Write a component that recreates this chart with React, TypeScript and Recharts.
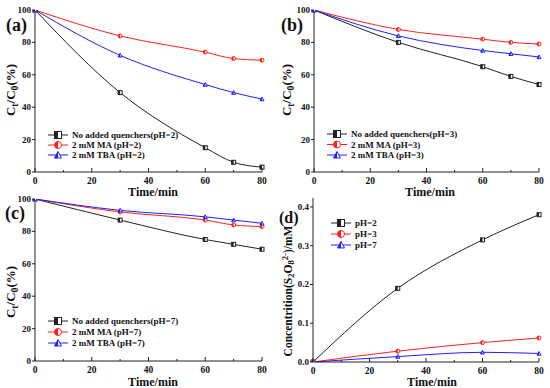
import React from "react";
import { LineChart, Line, XAxis, YAxis } from "recharts";

// sampling times (min)
const timeABC = [0, 30, 60, 70, 80];
const timeD = [0, 30, 60, 80];

// (a) pH=2, Ct/C0 (%)
const noQuenchA = [100, 49, 15, 6, 3];
const maA = [100, 84, 74, 70, 69];
const tbaA = [100, 72, 54, 49, 45];

// (b) pH=3
const noQuenchB = [100, 80, 65, 59, 54];
const maB = [100, 88, 82, 80, 79];
const tbaB = [100, 84, 75, 73, 71];

// (c) pH=7
const noQuenchC = [100, 87, 75, 72, 69];
const maC = [100, 92, 87, 84, 83];
const tbaC = [100, 93, 89, 87, 85];

// (d) S2O8 2- concentration (mM)
const ph2D = [0, 0.19, 0.315, 0.38];
const ph3D = [0, 0.028, 0.05, 0.062];
const ph7D = [0, 0.014, 0.025, 0.022];

const xTicks = [0, 10, 20, 30, 40, 50, 60, 70, 80];
const pctTicks = [0, 20, 40, 60, 80, 100];
const concTicks = [0, 0.1, 0.2, 0.3, 0.4];

const FONT = '"Liberation Serif", "Times New Roman", serif';
const BLACK = "#222222";
const RED = "#ff2020";
const BLUE = "#2020ff";

type Shape = "square" | "circle" | "triangle";

function Marker({ cx, cy, s, color, shape }: { cx: number; cy: number; s: number; color: string; shape: Shape }) {
  const r = s / 2;
  if (shape === "square") {
    return (
      <g>
        <rect x={cx - r} y={cy - r} width={s} height={s} fill="#fff" stroke={color} strokeWidth={1} />
        <rect x={cx - r} y={cy - r} width={r} height={s} fill={color} />
      </g>
    );
  }
  if (shape === "circle") {
    return (
      <g>
        <circle cx={cx} cy={cy} r={r} fill="#fff" stroke={color} strokeWidth={1} />
        <path d={`M${cx},${cy - r} A${r},${r} 0 0 0 ${cx},${cy + r} Z`} fill={color} />
      </g>
    );
  }
  const h = r * 0.85;
  return (
    <g>
      <polygon points={`${cx},${cy - r} ${cx + r},${cy + h} ${cx - r},${cy + h}`} fill="#fff" stroke={color} strokeWidth={1} />
      <polygon points={`${cx},${cy - r} ${cx},${cy + h} ${cx - r},${cy + h}`} fill={color} />
    </g>
  );
}

const makeDot = (color: string, shape: Shape) => (props: any) => {
  const { cx, cy, index } = props;
  if (cx == null || cy == null) return <g key={index} />;
  return (
    <g key={index}>
      <Marker cx={cx} cy={cy} s={4} color={color} shape={shape} />
    </g>
  );
};

const XTick = (props: any) => {
  const { x, y, payload } = props;
  const v = payload.value;
  const major = v % 20 === 0;
  return (
    <g>
      <line x1={x} x2={x} y1={y} y2={y - (major ? 4 : 2)} stroke={BLACK} strokeWidth={1} />
      {major && (
        <text x={x} y={y + 12} textAnchor="middle" fontFamily={FONT} fontWeight="bold" fontSize={9.5} fill="#111">
          {v}
        </text>
      )}
    </g>
  );
};

const makeYTick = (fmt: (v: number) => string) => (props: any) => {
  const { x, y, payload } = props;
  return (
    <g>
      <line x1={x} x2={x - 3} y1={y} y2={y} stroke={BLACK} strokeWidth={1} />
      <text x={x - 4} y={y + 3} textAnchor="end" fontFamily={FONT} fontWeight="bold" fontSize={9} fill="#111">
        {fmt(payload.value)}
      </text>
    </g>
  );
};

type SeriesDef = { key: string; name: string; values: number[]; color: string; shape: Shape };

type PanelProps = {
  left: number;
  top: number;
  plotLeft: number;
  plotRight: number;
  plotTop: number;
  plotBottom: number;
  times: number[];
  series: SeriesDef[];
  yDomain: [number, number];
  yTicks: number[];
  yFmt: (v: number) => string;
};

function Panel(p: PanelProps) {
  const data = p.times.map((t, i) => {
    const row: Record<string, number> = { t };
    p.series.forEach((s) => (row[s.key] = s.values[i]));
    return row;
  });
  return (
    <div style={{ position: "absolute", left: p.left, top: p.top, width: 275, height: 194 }}>
      <LineChart
        width={275}
        height={194}
        data={data}
        margin={{ top: p.plotTop, right: 275 - p.plotRight, left: 0, bottom: 0 }}
      >
        <XAxis
          dataKey="t"
          type="number"
          domain={[0, 80]}
          ticks={xTicks}
          interval={0}
          height={194 - p.plotBottom}
          tickSize={0}
          tickMargin={0}
          tick={<XTick />}
          axisLine={{ stroke: BLACK, strokeWidth: 1 }}
        />
        <XAxis
          xAxisId="top"
          orientation="top"
          type="number"
          domain={[0, 80]}
          height={0}
          tick={false}
          tickLine={false}
          axisLine={{ stroke: "#666", strokeWidth: 1 }}
        />
        <YAxis
          type="number"
          domain={p.yDomain}
          ticks={p.yTicks}
          interval={0}
          width={p.plotLeft}
          tickSize={0}
          tickMargin={0}
          tick={makeYTick(p.yFmt)}
          axisLine={{ stroke: BLACK, strokeWidth: 1 }}
          allowDataOverflow
        />
        <YAxis
          yAxisId="right"
          orientation="right"
          type="number"
          domain={p.yDomain}
          width={0}
          tick={false}
          tickLine={false}
          axisLine={{ stroke: "#666", strokeWidth: 1 }}
        />
        {p.series.map((s) => (
          <Line
            key={s.key}
            type="monotone"
            dataKey={s.key}
            stroke={s.color}
            strokeWidth={1}
            dot={makeDot(s.color, s.shape)}
            isAnimationActive={false}
          />
        ))}
      </LineChart>
    </div>
  );
}

function Legend({ left, top, items, rowH }: { left: number; top: number; items: SeriesDef[]; rowH: number }) {
  return (
    <svg style={{ position: "absolute", left, top, overflow: "visible" }} width={140} height={rowH * items.length}>
      {items.map((s, i) => {
        const y = i * rowH;
        return (
          <g key={s.key}>
            <line x1={0} x2={20} y1={y} y2={y} stroke={s.color} strokeWidth={1} />
            <Marker cx={10} cy={y} s={7} color={s.color} shape={s.shape} />
            <text x={24} y={y + 3} fontFamily={FONT} fontWeight="bold" fontSize={9} fill="#111">
              {s.name}
            </text>
          </g>
        );
      })}
    </svg>
  );
}

const textStyle: React.CSSProperties = {
  position: "absolute",
  fontFamily: FONT,
  fontWeight: "bold",
  color: "#111",
  whiteSpace: "nowrap",
  lineHeight: 1,
};

function Tag({ x, y, label, size = 18 }: { x: number; y: number; label: string; size?: number }) {
  return <div style={{ ...textStyle, left: x, top: y, fontSize: size }}>{label}</div>;
}

function TimeLabel({ cx, cy }: { cx: number; cy: number }) {
  return (
    <div style={{ ...textStyle, left: cx, top: cy, fontSize: 12, transform: "translate(-50%, -50%)" }}>Time/min</div>
  );
}

const subStyle: React.CSSProperties = { fontSize: "0.75em", verticalAlign: "-0.25em" };
const supStyle: React.CSSProperties = { fontSize: "0.75em", verticalAlign: "0.45em" };

function YLabel({ cx, cy, children, size }: { cx: number; cy: number; children: React.ReactNode; size: number }) {
  return (
    <div
      style={{
        ...textStyle,
        left: cx,
        top: cy,
        fontSize: size,
        transform: "translate(-50%, -50%) rotate(-90deg)",
      }}
    >
      {children}
    </div>
  );
}

const CtC0 = (
  <>
    C<span style={subStyle}>t</span>/C<span style={subStyle}>0</span>(%)
  </>
);

const pct = (v: number) => String(v);
const conc = (v: number) => v.toFixed(1);

export default function App() {
  const seriesA: SeriesDef[] = [
    { key: "n", name: "No added quenchers(pH=2)", values: noQuenchA, color: BLACK, shape: "square" },
    { key: "m", name: "2 mM MA (pH=2)", values: maA, color: RED, shape: "circle" },
    { key: "b", name: " 2 mM TBA (pH=2)", values: tbaA, color: BLUE, shape: "triangle" },
  ];
  const seriesB: SeriesDef[] = [
    { key: "n", name: "No added quenchers(pH=3)", values: noQuenchB, color: BLACK, shape: "square" },
    { key: "m", name: "2 mM MA (pH=3)", values: maB, color: RED, shape: "circle" },
    { key: "b", name: " 2 mM TBA (pH=3)", values: tbaB, color: BLUE, shape: "triangle" },
  ];
  const seriesC: SeriesDef[] = [
    { key: "n", name: "No added quenchers(pH=7)", values: noQuenchC, color: BLACK, shape: "square" },
    { key: "m", name: "2 mM MA (pH=7)", values: maC, color: RED, shape: "circle" },
    { key: "b", name: " 2 mM TBA (pH=7)", values: tbaC, color: BLUE, shape: "triangle" },
  ];
  const seriesD: SeriesDef[] = [
    { key: "p2", name: "pH=2", values: ph2D, color: BLACK, shape: "square" },
    { key: "p3", name: "pH=3", values: ph3D, color: RED, shape: "circle" },
    { key: "p7", name: "pH=7", values: ph7D, color: BLUE, shape: "triangle" },
  ];

  return (
    <div
      style={{
        position: "absolute",
        left: 0,
        top: 0,
        width: 550,
        height: 388,
        background: "#fff",
        overflow: "hidden",
      }}
    >
      <Panel left={0} top={0} plotLeft={35} plotRight={262} plotTop={10} plotBottom={172}
        times={timeABC} series={seriesA} yDomain={[0, 100]} yTicks={pctTicks} yFmt={pct} />
      <Panel left={275} top={0} plotLeft={39} plotRight={264} plotTop={10} plotBottom={172}
        times={timeABC} series={seriesB} yDomain={[0, 100]} yTicks={pctTicks} yFmt={pct} />
      <Panel left={0} top={194} plotLeft={35} plotRight={262} plotTop={5} plotBottom={167}
        times={timeABC} series={seriesC} yDomain={[0, 100]} yTicks={pctTicks} yFmt={pct} />
      <Panel left={275} top={194} plotLeft={38} plotRight={264} plotTop={4} plotBottom={168}
        times={timeD} series={seriesD} yDomain={[0, 0.423]} yTicks={concTicks} yFmt={conc} />

      <Legend left={48} top={135} rowH={10} items={seriesA} />
      <Legend left={327} top={134} rowH={10.5} items={seriesB} />
      <Legend left={48} top={321} rowH={11} items={seriesC} />
      <Legend left={331} top={223} rowH={11} items={seriesD} />

      <Tag x={6} y={16} label="(a)" />
      <Tag x={281} y={16} label="(b)" />
      <Tag x={5} y={204} label="(c)" />
      <Tag x={279} y={210} label="(d)" size={16} />

      <TimeLabel cx={153} cy={192} />
      <TimeLabel cx={430} cy={192} />
      <TimeLabel cx={153} cy={382} />
      <TimeLabel cx={432} cy={382} />

      <YLabel cx={12} cy={90} size={13}>{CtC0}</YLabel>
      <YLabel cx={288} cy={90} size={13}>{CtC0}</YLabel>
      <YLabel cx={12} cy={292} size={13}>{CtC0}</YLabel>
      <YLabel cx={288} cy={291} size={11.5}>
        Concentrition(S<span style={subStyle}>2</span>O<span style={subStyle}>8</span>
        <span style={supStyle}>2-</span>)/mM
      </YLabel>
    </div>
  );
}
